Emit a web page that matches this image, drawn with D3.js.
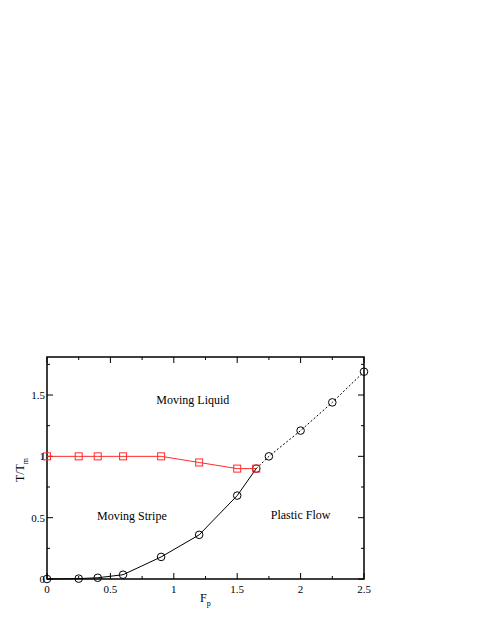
<!DOCTYPE html>
<html>
<head>
<meta charset="utf-8">
<script src="https://cdn.jsdelivr.net/npm/d3@7"></script>
<style>
  body { margin: 0; background: #fff; }
  svg text { font-family: "Liberation Serif", "DejaVu Serif", serif; fill: #000; }
</style>
</head>
<body>
<div id="target_area"></div>
<script>
// melting line (red squares)
var meltF = [0, 0.25, 0.4, 0.6, 0.9, 1.2, 1.5, 1.65];
var meltT = [1.0, 1.0, 1.0, 1.0, 1.0, 0.95, 0.9, 0.9];

// stripe / plastic boundary (black circles, solid part)
var stripeF = [0, 0.25, 0.4, 0.6, 0.9, 1.2, 1.5, 1.65];
var stripeT = [0, 0.003, 0.01, 0.035, 0.18, 0.36, 0.68, 0.9];

// plastic / liquid boundary (black circles, dashed part)
var plasticF = [1.65, 1.75, 2.0, 2.25, 2.5];
var plasticT = [0.9, 1.0, 1.21, 1.44, 1.69];

var xTicks = [0, 0.5, 1, 1.5, 2, 2.5];
var xTickLabels = ["0", "0.5", "1", "1.5", "2", "2.5"];
var yTicks = [0, 0.5, 1, 1.5];
var yTickLabels = ["0", "0.5", "1", "1.5"];

var regionLabels = ["Moving Liquid", "Moving Stripe", "Plastic Flow"];
var regionF = [1.15, 0.67, 2.0];
var regionT = [1.43, 0.48, 0.49];

var width = 485, height = 627;
var margin = {top: 357, right: 121, bottom: 48, left: 47};

var svg = d3.select("#target_area")
  .append("svg")
  .attr("width", width)
  .attr("height", height);

var x = d3.scaleLinear().domain([0, 2.5]).range([margin.left, width - margin.right]);
var y = d3.scaleLinear().domain([0, 1.81]).range([height - margin.bottom, margin.top]);

var zip = function (a, b) { return a.map(function (v, i) { return [v, b[i]]; }); };

// frame
svg.append("rect")
  .attr("x", x(0)).attr("y", y(1.81))
  .attr("width", x(2.5) - x(0)).attr("height", y(0) - y(1.81))
  .attr("fill", "none").attr("stroke", "#000").attr("stroke-width", 1.5);

// ticks (inward, all four sides)
var xMinor = d3.range(0.25, 2.5, 0.5);
var yMinor = d3.range(0.25, 1.8, 0.5);
var tk = svg.append("g").attr("stroke", "#000").attr("stroke-width", 1);
xTicks.concat(xMinor).forEach(function (t) {
  var len = xTicks.indexOf(t) >= 0 ? 6 : 3;
  tk.append("line").attr("x1", x(t)).attr("x2", x(t)).attr("y1", y(0)).attr("y2", y(0) - len);
  tk.append("line").attr("x1", x(t)).attr("x2", x(t)).attr("y1", y(1.81)).attr("y2", y(1.81) + len);
});
yTicks.concat(yMinor).forEach(function (t) {
  var len = yTicks.indexOf(t) >= 0 ? 6 : 3;
  tk.append("line").attr("y1", y(t)).attr("y2", y(t)).attr("x1", x(0)).attr("x2", x(0) + len);
  tk.append("line").attr("y1", y(t)).attr("y2", y(t)).attr("x1", x(2.5)).attr("x2", x(2.5) - len);
});

// tick labels
svg.selectAll(".xt").data(xTicks).enter().append("text")
  .attr("x", function (d) { return x(d); })
  .attr("y", y(0) + 14)
  .attr("text-anchor", "middle")
  .style("font-size", "11px")
  .text(function (d, i) { return xTickLabels[i]; });

svg.selectAll(".yt").data(yTicks).enter().append("text")
  .attr("x", x(0) - 2)
  .attr("y", function (d) { return y(d); })
  .attr("dy", "0.35em")
  .attr("text-anchor", "end")
  .style("font-size", "11px")
  .text(function (d, i) { return yTickLabels[i]; });

// axis titles
var xl = svg.append("text")
  .attr("x", 200).attr("y", 602)
  .style("font-size", "12px")
  .text("F");
xl.append("tspan").attr("dy", 4).style("font-size", "8px").text("p");

var yl = svg.append("text")
  .attr("transform", "translate(24," + 470 + ") rotate(-90)")
  .attr("text-anchor", "middle")
  .style("font-size", "12px")
  .text("T/T");
yl.append("tspan").attr("dy", 4).style("font-size", "8px").text("m");

var line = d3.line()
  .x(function (d) { return x(d[0]); })
  .y(function (d) { return y(d[1]); });

// red melting line
var red = "#ff2a2a";
svg.append("path")
  .attr("d", line(zip(meltF, meltT)))
  .attr("fill", "none").attr("stroke", red).attr("stroke-width", 1);

// black solid line
svg.append("path")
  .attr("d", line(zip(stripeF, stripeT)))
  .attr("fill", "none").attr("stroke", "#000").attr("stroke-width", 1);

// black dashed line
svg.append("path")
  .attr("d", line(zip(plasticF, plasticT)))
  .attr("fill", "none").attr("stroke", "#000").attr("stroke-width", 1)
  .attr("stroke-dasharray", "2,2");

// circles
svg.selectAll(".c1").data(zip(stripeF, stripeT).concat(zip(plasticF, plasticT).slice(1)))
  .enter().append("circle")
  .attr("cx", function (d) { return x(d[0]); })
  .attr("cy", function (d) { return y(d[1]); })
  .attr("r", 3.8)
  .attr("fill", "none").attr("stroke", "#000").attr("stroke-width", 1);

// squares
svg.selectAll(".sq").data(zip(meltF, meltT))
  .enter().append("rect")
  .attr("x", function (d) { return x(d[0]) - 3.5; })
  .attr("y", function (d) { return y(d[1]) - 3.5; })
  .attr("width", 7).attr("height", 7)
  .attr("fill", "none").attr("stroke", red).attr("stroke-width", 1);

// region labels
svg.selectAll(".rl").data(regionLabels).enter().append("text")
  .attr("x", function (d, i) { return x(regionF[i]); })
  .attr("y", function (d, i) { return y(regionT[i]); })
  .attr("text-anchor", "middle")
  .style("font-size", "12px")
  .text(function (d) { return d; });
</script>
</body>
</html>
